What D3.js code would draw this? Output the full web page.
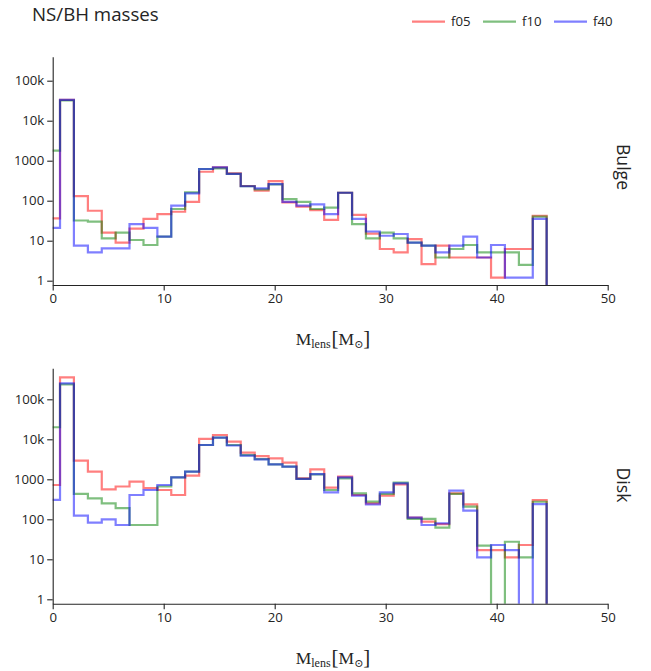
<!DOCTYPE html>
<html><head><meta charset="utf-8">
<script src="https://cdn.jsdelivr.net/npm/d3@7"></script>
<style>body{margin:0;background:#fff}svg{display:block}</style>
</head><body>
<svg id="c" width="651" height="671"></svg>
<script>
// ---- data ----
const binEdges = [-0.59,0.66,1.91,3.17,4.42,5.67,6.92,8.18,9.43,10.68,11.93,13.19,14.44,15.69,16.94,18.20,19.45,20.70,21.96,23.21,24.46,25.71,26.97,28.22,29.47,30.72,31.98,33.23,34.48,35.73,36.99,38.24,39.49,40.74,42.00,43.25,44.50];
const seriesNames = ["f05","f10","f40"];
const panels = ["Bulge","Disk"];
const bulge_f05 = [36,33000,130,56,16,8.9,20,35,46,53,94,530,680,480,233,178,310,91,71,58,33,158,44,15,6.2,5.1,11,2.6,7.5,3.8,3.8,3.8,1.2,6.2,6.2,42];
const bulge_f10 = [1780,32000,32,30,11.4,16,10.4,7.8,12.6,62,162,620,640,470,230,192,255,110,94,62,67,158,26,11.4,16,11.4,8.9,7.5,3.8,6.2,7.8,5.1,5.1,5.1,2.5,40];
const bulge_f40 = [21,33000,7.5,5.1,6.4,6.4,26,21,12.6,75,152,620,680,470,230,203,260,94,75,81,46,158,35,17,13.3,14.7,9,7.5,5.1,7.5,12.6,3.8,7.8,1.2,1.2,35];
const disk_f05 = [720,355000,2930,1550,560,660,870,600,540,405,1230,10200,12800,8700,4650,3800,3350,2620,1060,1780,620,1170,405,250,390,750,110,87,76,445,237,17,17,11.2,22.8,300];
const disk_f10 = [20000,237000,430,335,250,190,72,72,660,1120,1550,7200,11000,7200,4000,3200,2370,2080,1030,1330,540,1060,445,277,430,830,102,102,62,430,207,22,0,27.5,11.2,275];
const disk_f40 = [305,250000,124,83,100,72,405,540,720,1120,1550,7200,11000,7000,3900,3150,2370,2080,1030,1350,470,1120,390,237,470,790,110,72,79,520,165,11.2,22.8,17,0,240];
const xTicks = [0,10,20,30,40,50];
const yTicks = [1,10,100,1000,10000,100000];
const yTickLabels = ["1","10","100","1000","10k","100k"];
const colors = ["red","green","blue"];

// ---- layout ----
const svg = d3.select("#c");
const txt = "rgb(36,36,36)";
const font = "'Open Sans', sans-serif";
const xL = 52.7, xR = 607.7;
const panelDefs = [
  {name:panels[0], data:[bulge_f05,bulge_f10,bulge_f40], top:56.7, bottom:285, lo:-0.1075, hi:5.6, id:"p0"},
  {name:panels[1], data:[disk_f05,disk_f10,disk_f40], top:368.3, bottom:603.7, lo:-0.11, hi:5.775, id:"p1"}
];
const x = d3.scaleLinear().domain([0,50]).range([xL,xR]);

svg.append("text").attr("x",32).attr("y",21).attr("font-family",font)
  .attr("font-size",18.7).attr("fill",txt).text("NS/BH masses");

panelDefs.forEach(p => {
  const y = d3.scaleLog().domain([Math.pow(10,p.lo), Math.pow(10,p.hi)]).range([p.bottom,p.top]);
  svg.append("clipPath").attr("id",p.id).append("rect")
    .attr("x",xL).attr("y",p.top).attr("width",xR-xL).attr("height",p.bottom-p.top);
  const g = svg.append("g").attr("clip-path",`url(#${p.id})`);
  const line = d3.line();
  p.data.forEach((vals,si) => {
    const pts = [];
    const yv = v => y(v > 0 ? v : 1e-3);
    vals.forEach((v,i) => {
      pts.push([x(binEdges[i]), yv(v)]);
      pts.push([x(binEdges[i+1]), yv(v)]);
    });
    pts.push([x(binEdges[binEdges.length-1]), yv(0)]);
    g.append("path").attr("d",line(pts)).attr("fill","none")
      .attr("stroke",colors[si]).attr("stroke-opacity",0.5).attr("stroke-width",2.2);
  });
  // axes
  const xa = svg.append("g").attr("transform",`translate(0,${p.bottom})`)
    .call(d3.axisBottom(x).tickValues(xTicks).tickSize(5.5).tickPadding(3).tickSizeOuter(0));
  const ya = svg.append("g").attr("transform",`translate(${xL},0)`)
    .call(d3.axisLeft(y).tickValues(yTicks).tickFormat((d,i)=>yTickLabels[i]).tickSize(5.5).tickPadding(3).tickSizeOuter(0));
  [xa,ya].forEach(a => {
    a.select(".domain").attr("stroke",txt).attr("stroke-width",1.1);
    a.selectAll(".tick line").attr("stroke",txt).attr("stroke-width",1.1);
    a.selectAll(".tick text").attr("fill",txt).attr("font-family",font).attr("font-size",13.2);
  });
  // axis title
  const t = svg.append("text").attr("x",333).attr("y",p.bottom+60).attr("text-anchor","middle")
    .attr("font-family","'Liberation Serif','DejaVu Serif',serif").attr("font-size",17.5).attr("fill",txt);
  t.append("tspan").text("M");
  t.append("tspan").attr("font-size",12).attr("dy",3).text("lens");
  t.append("tspan").attr("font-size",21).attr("dy",-3).attr("dx",1).text("[");
  t.append("tspan").text("M");
  t.append("tspan").attr("font-family","'DejaVu Serif',serif").attr("font-size",11).attr("dy",3).text("⊙");
  t.append("tspan").attr("font-size",21).attr("dy",-3).text("]");
  // panel label
  const cy = p.id === "p0" ? 167 : 485;
  svg.append("text").attr("transform",`translate(617,${cy}) rotate(90)`)
    .attr("text-anchor","middle").attr("font-family",font).attr("font-size",17.6)
    .attr("fill",txt).text(p.name);
});

// legend
const legX = [412,483,554];
seriesNames.forEach((n,i) => {
  svg.append("line").attr("x1",legX[i]).attr("x2",legX[i]+33).attr("y1",21.7).attr("y2",21.7)
    .attr("stroke",colors[i]).attr("stroke-opacity",0.5).attr("stroke-width",2.2);
  svg.append("text").attr("x",legX[i]+39).attr("y",26.3).attr("font-family",font)
    .attr("font-size",13.2).attr("fill",txt).text(n);
});
</script>
</body></html>
